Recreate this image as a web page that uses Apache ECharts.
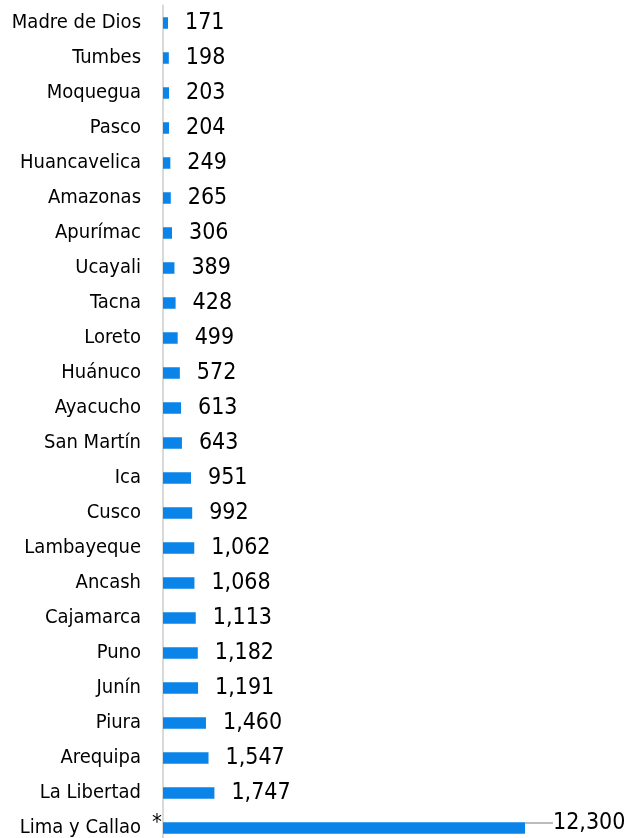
<!DOCTYPE html>
<html><head><meta charset="utf-8">
<script src="https://cdn.jsdelivr.net/npm/echarts@6/dist/echarts.min.js"></script>
<style>html,body{margin:0;padding:0;background:#fff}#c{width:629px;height:838px}</style>
</head><body><div id="c"></div>
<script>
const categories = ["Madre de Dios","Tumbes","Moquegua","Pasco","Huancavelica","Amazonas","Apurímac","Ucayali","Tacna","Loreto","Huánuco","Ayacucho","San Martín","Ica","Cusco","Lambayeque","Ancash","Cajamarca","Puno","Junín","Piura","Arequipa","La Libertad","Lima y Callao"];
const values = [171,198,203,204,249,265,306,389,428,499,572,613,643,951,992,1062,1068,1113,1182,1191,1460,1547,1747,12300];
const starred = ["Lima y Callao"];
const FONT = "'DejaVu Sans Condensed','Liberation Sans Narrow','Arial Narrow',sans-serif";
const chart = echarts.init(document.getElementById('c'));
const last = values.length - 1;
chart.setOption({
  animation:false,
  grid:{left:163, top:5.5, width:362, height:840, containLabel:false, outerBoundsMode:'none'},
  xAxis:{type:'value', min:0, max:12300, show:false},
  yAxis:{type:'category', inverse:true, data:categories,
    axisLine:{show:true, lineStyle:{color:'#d9d9d9', width:2}},
    axisTick:{show:false},
    axisLabel:{margin:1, fontFamily:FONT, fontSize:20, color:'#000',
      formatter:v=> starred.includes(v) ? '{n|'+v+'}{s|*}' : '{n|'+v+'}{g|}',
      rich:{
        n:{fontFamily:FONT, fontSize:20, color:'#000'},
        g:{width:21},
        s:{fontFamily:FONT, fontSize:22, color:'#000', width:11, padding:[0,0,10,10]}}}
  },
  series:[{type:'bar', barWidth:11.5,
    itemStyle:{color:'#0A84E8'},
    data: values.map((v,i)=> i===last ? {value:v, label:{distance:18, padding:[0,0,0,10]}, labelLine:{show:true, lineStyle:{color:'#a6a6a6', width:1.5}}} : v),
    label:{show:true, position:'right', distance:17, fontFamily:FONT, fontSize:23, color:'#000',
      formatter:p=>p.value.toLocaleString('en-US')},
    labelLayout:p=> p.dataIndex===last ? {dy:-5} : {}
  }]
});
</script></body></html>
